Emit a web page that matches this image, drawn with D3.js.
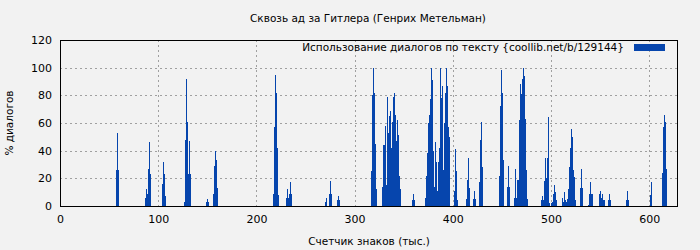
<!DOCTYPE html>
<html><head><meta charset="utf-8">
<script src="https://cdn.jsdelivr.net/npm/d3@7"></script>
<style>html,body{margin:0;padding:0;background:#f2f2f2;}svg{display:block;font-family:"DejaVu Sans",sans-serif;}</style>
</head><body>
<script>
const title = "Сквозь ад за Гитлера (Генрих Метельман)";
const xLabel = "Счетчик знаков (тыс.)";
const yLabel = "% диалогов";
const legendLabel = "Использование диалогов по тексту {coollib.net/b/129144}";
const xTicks = [0, 100, 200, 300, 400, 500, 600];
const yTicks = [0, 20, 40, 60, 80, 100, 120];
const barPositions = [58,59,60, 88,89,90,91,92,93, 105,106,107,108, 127,128,129,130,131,132,133, 150,151,152, 157,158,159,160,161,
 218,219,220,221,222,223, 231,232,233,234,235,236, 271,272, 275,276,277, 283,284,285,
 318,319,320,321,322,323, 329,330,331,332,333,334,335,336,337,338,339,340,341,342,343,344,345,346,347,
 359,360,361, 373,374,375,376,377,378,379,380,381,382,383,384,385,386,387,388,389,390,391,392,393,394,395,396,397,
 402,403,404,405, 414,415,416,417, 422,423,424, 428,429,430,431, 448,449,450,451,452, 456,457,458,
 463,464,465,466,467,468,469,470,471,472,473,474,475,476,477, 491,492,493,494,495,496,497,498,499,
 501,502,503,504,505,506, 512,513,514,515, 516,517,518,519,520,521,522,523,524,525, 531,532,533,
 539,540,541,542,543, 550,551,552,553,554,555, 559,560,561, 577,578,579, 602,603, 614,615,616,617,618];
const barValues = [26,53,26, 6,12,9,27,46,23, 16,32,23,7, 3,48,92,61,23,47,23, 3,5,3, 9,29,40,33,13,
 9,57,95,82,42,8, 6,12,6,9,17,9, 3,6, 9,18,9, 4,7,4,
 25,80,100,82,45,12, 14,44,44,58,15,79,53,65,69,42,61,79,82,66,47,62,51,22,12,
 4,9,4, 6,22,38,60,66,77,100,91,40,14,46,32,11,32,42,100,78,87,26,60,82,100,87,57,50,
 11,41,25,4, 5,19,35,13, 5,11,5, 17,48,61,28, 22,72,98,82,33, 14,29,14,
 6,27,6,19,19,62,88,81,92,100,92,94,63,26,5, 4,7,4,18,35,20,35,64,2,
 2,3,9,15,10,4, 6,3,10,4, 3,5,12,28,42,56,50,26,21,4, 13,27,13,
 1,9,17,9,9, 9,11,6,9,4,4, 4,9,4, 4,11,4, 8,17, 24,57,66,61,27];
const bars = barPositions.map((x, i) => ({x, v: barValues[i]}));

const W = 700, H = 250;
const L = 60, R = 678, T = 40, B = 206;
const svg = d3.select("body").append("svg").attr("width", W).attr("height", H);
svg.append("rect").attr("width", W).attr("height", H).attr("fill", "#f2f2f2");

const x = d3.scaleLinear().domain([0, 629.3]).range([L, R]);
const y = d3.scaleLinear().domain([0, 120]).range([B, T]);

// grid
const g = svg.append("g");
g.selectAll(".vg").data(xTicks.filter(t => t > 0)).enter().append("line")
  .attr("x1", d => Math.round(x(d)) + 0.5).attr("x2", d => Math.round(x(d)) + 0.5)
  .attr("y1", T).attr("y2", B)
  .attr("stroke", "#a0a0a0").attr("stroke-dasharray", "2,3").attr("stroke-width", 1);
g.selectAll(".hg").data(yTicks.filter(t => t > 0 && t < 120)).enter().append("line")
  .attr("y1", d => Math.round(y(d)) + 0.5).attr("y2", d => Math.round(y(d)) + 0.5)
  .attr("x1", L).attr("x2", R)
  .attr("stroke", "#a0a0a0").attr("stroke-dasharray", "2,3").attr("stroke-width", 1);

// bars (snap to whole pixels so neighbouring bars touch)
svg.append("g").selectAll("rect").data(bars).enter().append("rect")
  .attr("x", d => Math.floor(x(d.x - 0.5)))
  .attr("width", d => Math.max(1, Math.floor(x(d.x + 0.5)) - Math.floor(x(d.x - 0.5))))
  .attr("y", d => Math.round(y(d.v)))
  .attr("height", d => B - Math.round(y(d.v)))
  .attr("fill", "#0645ad")
  .attr("shape-rendering", "crispEdges");

// axes
const xAxis = d3.axisBottom(x).tickValues(xTicks).tickSize(0).tickPadding(9);
const xa = svg.append("g").attr("transform", `translate(0,${B})`).call(xAxis);
const yAxis = d3.axisLeft(y).tickValues(yTicks).tickSize(0).tickPadding(8);
const ya = svg.append("g").attr("transform", `translate(${L},0)`).call(yAxis);
[xa, ya].forEach(a => {
  a.select(".domain").remove();
  a.selectAll("text").attr("font-family", "DejaVu Sans, sans-serif").attr("font-size", 11).attr("fill", "#000");
});

// frame
svg.append("rect").attr("x", L + 0.5).attr("y", T + 0.5).attr("width", R - L - 1).attr("height", B - T)
  .attr("fill", "none").attr("stroke", "#000").attr("stroke-width", 1);

// texts
svg.append("text").attr("x", 368).attr("y", 22).attr("text-anchor", "middle")
  .attr("font-size", 10.5).text(title);
svg.append("text").attr("x", 369).attr("y", 245).attr("text-anchor", "middle")
  .attr("font-size", 10.5).text(xLabel);
svg.append("text").attr("transform", "translate(13,123) rotate(-90)").attr("text-anchor", "middle")
  .attr("font-size", 10.5).text(yLabel);

// legend
svg.append("text").attr("x", 624).attr("y", 51).attr("text-anchor", "end")
  .attr("font-size", 10.5).text(legendLabel);
svg.append("rect").attr("x", 634).attr("y", 44).attr("width", 31).attr("height", 7).attr("fill", "#0645ad");
</script>
</body></html>
